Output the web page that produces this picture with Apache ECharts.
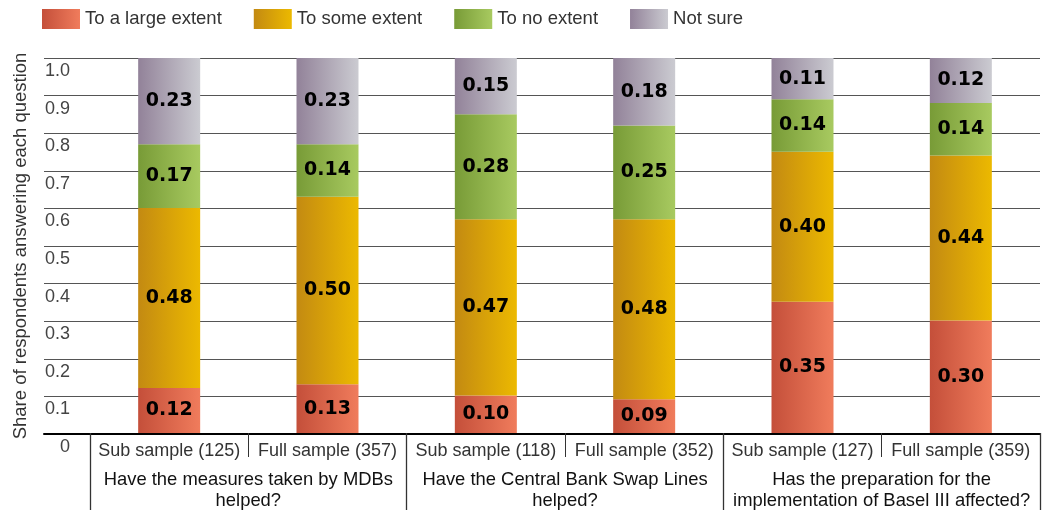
<!DOCTYPE html>
<html>
<head>
<meta charset="utf-8">
<script src="https://cdn.jsdelivr.net/npm/echarts@6/dist/echarts.min.js"></script>
<style>
html,body{margin:0;padding:0;background:#fff;}
#chart{width:1042px;height:511px;}
</style>
</head>
<body>
<div id="chart"></div>
<script>
// ---- data ----
const categories = ['Sub sample (125)', 'Full sample (357)', 'Sub sample (118)', 'Full sample (352)', 'Sub sample (127)', 'Full sample (359)'];
const groups = ['Have the measures taken by MDBs\nhelped?', 'Have the Central Bank Swap Lines\nhelped?', 'Has the preparation for the\nimplementation of Basel III affected?'];
const seriesNames = ['To a large extent', 'To some extent', 'To no extent', 'Not sure'];
const largeExtent = [0.12, 0.13, 0.10, 0.09, 0.35, 0.30];
const someExtent  = [0.48, 0.50, 0.47, 0.48, 0.40, 0.44];
const noExtent    = [0.17, 0.14, 0.28, 0.25, 0.14, 0.14];
const notSure     = [0.23, 0.23, 0.15, 0.18, 0.11, 0.12];
const yTitle = 'Share of respondents answering each question';

// ---- styles ----
const FONT = '"Liberation Sans", Arial, sans-serif';
function grad(a, b) {
  return new echarts.graphic.LinearGradient(0, 0, 1, 0, [{offset: 0, color: a}, {offset: 1, color: b}]);
}
const colors = [
  grad('#c44f3a', '#f07c5c'),
  grad('#c38a12', '#ecb900'),
  grad('#789b37', '#a8ca60'),
  grad('#928299', '#cbcbd1')
];
const values = [largeExtent, someExtent, noExtent, notSure];

const chart = echarts.init(document.getElementById('chart'), null, {renderer: 'canvas'});
const TOP = 58, BOTTOM = 77;

const option = {
  animation: false,
  backgroundColor: '#fff',
  legend: {
    left: 42, top: 9, padding: 0,
    itemWidth: 38, itemHeight: 20, itemGap: 32,
    icon: 'rect',
    data: seriesNames,
    textStyle: {fontFamily: FONT, fontSize: 18.5, color: '#333'}
  },
  grid: [
    {left: 90, right: 2, top: TOP, bottom: BOTTOM},
    {left: 44, right: 2, top: TOP, bottom: BOTTOM}
  ],
  xAxis: [
    {
      type: 'category', gridIndex: 0, data: categories, position: 'bottom',
      boundaryGap: true,
      axisLine: {show: false},
      axisTick: {show: true, length: 24, interval: 0, lineStyle: {color: '#333', width: 1}},
      axisLabel: {interval: 0, margin: 9, fontFamily: FONT, fontSize: 18, color: '#333'}
    },
    {
      type: 'category', gridIndex: 0, data: groups, position: 'bottom',
      boundaryGap: true,
      axisLine: {show: false},
      axisTick: {show: true, length: 77, interval: 0, lineStyle: {color: '#333', width: 1.3}},
      axisLabel: {interval: 0, margin: 36, fontFamily: FONT, fontSize: 18.4, color: '#111', lineHeight: 21}
    },
    {
      type: 'category', gridIndex: 1, data: [''], position: 'bottom',
      axisLine: {show: true, lineStyle: {color: '#000', width: 2}},
      axisTick: {show: false},
      axisLabel: {show: false}
    }
  ],
  yAxis: [
    {type: 'value', gridIndex: 0, min: 0, max: 1, interval: 0.1, show: false},
    {
      type: 'value', gridIndex: 1, min: 0, max: 1, interval: 0.1,
      name: yTitle, nameLocation: 'middle', nameGap: 14,
      nameTextStyle: {fontFamily: FONT, fontSize: 18.5, color: '#333'},
      axisLine: {show: false}, axisTick: {show: false},
      splitLine: {show: true, lineStyle: {color: '#555', width: 1.2}},
      axisLabel: {
        inside: true, align: 'right', verticalAlign: 'top', margin: 26, padding: [4, 0, 0, 0],
        fontFamily: FONT, fontSize: 18, color: '#444',
        formatter: v => v === 0 ? '0' : v.toFixed(1)
      }
    }
  ],
  series: seriesNames.map((name, i) => ({
    name: name,
    type: 'bar',
    stack: 'total',
    xAxisIndex: 0, yAxisIndex: 0,
    barWidth: 62,
    data: values[i],
    itemStyle: {color: colors[i]},
    label: {
      show: true, position: 'inside',
      fontFamily: '"DejaVu Sans", sans-serif', fontWeight: 'bold', fontSize: 19, color: '#000',
      formatter: p => p.value.toFixed(2)
    }
  }))
};
chart.setOption(option);
</script>
</body>
</html>
